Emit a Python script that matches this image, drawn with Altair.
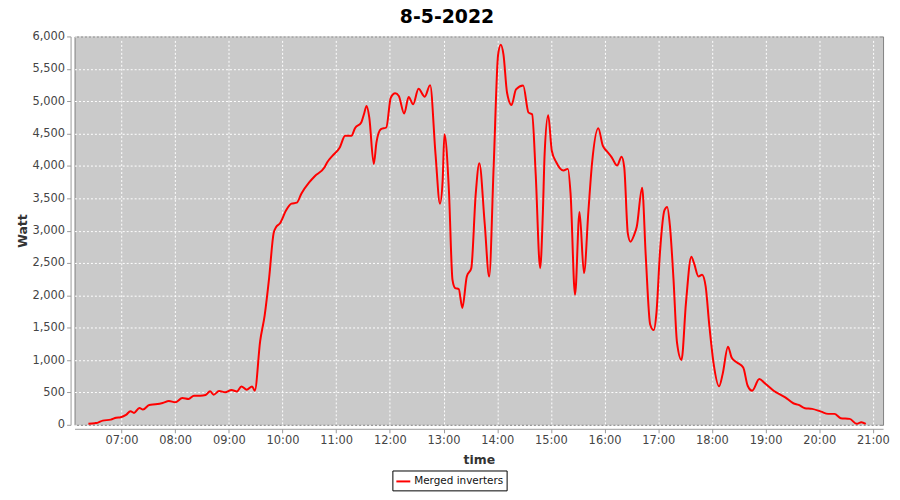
import altair as alt
import pandas as pd

# ---- data ----
times = [
    "06:23", "06:30", "06:33", "06:39", "06:48", "06:54", "06:59", "07:05", "07:10", "07:14",
    "07:20", "07:24", "07:31", "07:38", "07:46", "07:53", "08:00", "08:08", "08:15", "08:21",
    "08:28", "08:34", "08:39", "08:43", "08:49", "08:56", "09:03", "09:09", "09:14", "09:20",
    "09:26", "09:29", "09:35", "09:40", "09:45", "09:50", "09:53", "09:57", "10:04", "10:10",
    "10:16", "10:21", "10:30", "10:36", "10:47", "10:50", "10:56", "11:04", "11:10", "11:17",
    "11:21", "11:28", "11:31", "11:34", "11:37", "11:42", "11:45", "11:50", "11:56", "12:01",
    "12:06", "12:10", "12:16", "12:21", "12:26", "12:32", "12:39", "12:45", "12:51", "12:56",
    "12:59", "13:01", "13:06", "13:10", "13:13", "13:17", "13:21", "13:26", "13:31", "13:36",
    "13:40", "13:46", "13:51", "13:56", "14:01", "14:04", "14:07", "14:11", "14:16", "14:21",
    "14:29", "14:35", "14:39", "14:43", "14:48", "14:51", "14:53", "14:57", "15:01", "15:06",
    "15:14", "15:19", "15:22", "15:27", "15:32", "15:37", "15:42", "15:46", "15:53", "15:58",
    "16:02", "16:08", "16:14", "16:19", "16:22", "16:26", "16:29", "16:33", "16:36", "16:42",
    "16:46", "16:51", "16:55", "16:58", "17:02", "17:07", "17:10", "17:13", "17:17", "17:21",
    "17:26", "17:31", "17:37", "17:40", "17:45", "17:49", "17:53", "17:57", "18:02", "18:08",
    "18:12", "18:18", "18:22", "18:28", "18:35", "18:40", "18:45", "18:53", "18:59", "19:09",
    "19:22", "19:31", "19:37", "19:44", "19:52", "20:02", "20:10", "20:17", "20:24", "20:34",
    "20:42", "20:47", "20:52",
]
watts = [
    15, 25, 30, 65, 80, 110, 118, 153, 210, 184,
    260, 235, 307, 317, 337, 368, 348, 414, 399, 450,
    450, 460, 517, 465, 522, 502, 537, 515, 593, 542,
    593, 527, 1294, 1688, 2266, 2957, 3059, 3110, 3315, 3417,
    3432, 3571, 3749, 3841, 3979, 4056, 4159, 4286, 4465, 4465,
    4583, 4670, 4798, 4926, 4746, 4031, 4363, 4568, 4593, 5053,
    5121, 5079, 4808, 5064, 4952, 5191, 5069, 5248, 4185, 3417,
    3775, 4491, 3621, 2240, 2113, 2098, 1806, 2291, 2420, 3571,
    4041, 3110, 2291, 3979, 5719, 5872, 5719, 5130, 4941, 5182,
    5243, 4823, 4798, 3878, 2420, 3264, 4185, 4783, 4235, 4056,
    3928, 3954, 3571, 2010, 3289, 2343, 3315, 4041, 4583, 4312,
    4235, 4133, 4005, 4143, 3979, 2957, 2829, 2931, 3059, 3663,
    2624, 1550, 1463, 1729, 2675, 3315, 3365, 3084, 2266, 1269,
    1002, 1883, 2598, 2497, 2291, 2317, 2138, 1550, 936, 594,
    783, 1208, 1039, 962, 885, 603, 527, 706, 644, 527,
    425, 333, 307, 256, 246, 204, 169, 169, 103, 92,
    15, 41, 15,
]
series_name = "Merged inverters"
chart_title = "8-5-2022"
hour_ticks = list(range(7, 22))
y_ticks = list(range(0, 6001, 500))

df = pd.DataFrame({
    "time": ["2022-05-08T" + t + ":00" for t in times],
    "watt": watts,
    "series": series_name,
})

FONT = "DejaVu Sans"

def dt(h, m=0, s=0):
    return alt.DateTime(year=2022, month=5, date=8, hours=h, minutes=m, seconds=s)

x_enc = alt.X(
    "time:T",
    scale=alt.Scale(domain=[dt(6, 7, 30), dt(21, 11, 20)]),
    axis=alt.Axis(
        title="time",
        format="%H:%M",
        values=[dt(h) for h in hour_ticks],
        labelFlush=False,
        titlePadding=7,
    ),
)
y_enc = alt.Y(
    "watt:Q",
    scale=alt.Scale(domain=[0, 6000], nice=False),
    axis=alt.Axis(
        title="Watt",
        values=y_ticks,
        format=",d",
        titlePadding=2,
    ),
)
color_enc = alt.Color(
    "series:N",
    scale=alt.Scale(domain=[series_name], range=["#FF0000"]),
    legend=alt.Legend(
        title=None,
        orient="none",
        legendX=320,
        legendY=437,
        strokeColor="black",
        fillColor="white",
        padding=3,
        cornerRadius=0,
        symbolType="stroke",
        symbolStrokeWidth=2,
        symbolSize=196,
        labelFont=FONT,
        labelFontSize=10.5,
        labelColor="#111111",
        labelOffset=3,
    ),
)

chart = (
    alt.Chart(df)
    .mark_line(interpolate="monotone", strokeWidth=2)
    .encode(x=x_enc, y=y_enc, color=color_enc)
    .properties(
        width=814,
        height=391,
        background="white",
        title=alt.TitleParams(
            chart_title,
            font=FONT,
            fontSize=19,
            fontWeight="bold",
            color="#000000",
            anchor="middle",
            offset=4,
            dx=-32,
        ),
        autosize=alt.AutoSizeParams(type="none"),
        padding={"left": 67, "top": 27, "right": 9, "bottom": 66},
    )
    .configure_view(fill="#CACACA", stroke="#808080", strokeWidth=1)
    .configure_axis(
        labelFont=FONT,
        labelFontSize=11.5,
        labelColor="#444444",
        titleFont=FONT,
        titleFontSize=12.5,
        titleFontWeight="bold",
        titleColor="#333333",
        domainColor="#9A9A9A",
        tickColor="#9A9A9A",
        tickSize=4,
        offset=4,
        labelPadding=2,
        gridColor="#FFFFFF",
        gridDash=[2, 2],
        gridWidth=1,
        gridOpacity=1,
    )
)

chart.save("out.html", embed_options={"renderer": "svg", "actions": False})
